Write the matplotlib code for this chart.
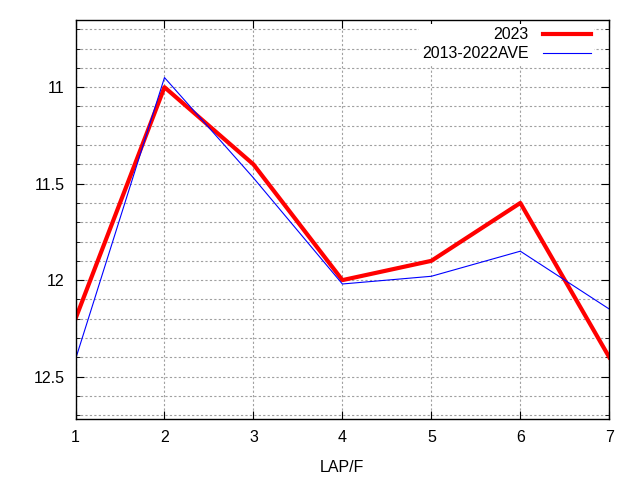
import matplotlib.pyplot as plt
import numpy as np

plt.rcParams.update({'font.size': 11.5, 'font.family': ['Liberation Sans', 'DejaVu Sans']})

# data
laps     = [1, 2, 3, 4, 5, 6, 7]
y2023    = [12.20, 11.00, 11.40, 12.00, 11.90, 11.60, 12.40]
yAve     = [12.41, 10.95, 11.47, 12.02, 11.98, 11.85, 12.15]
yTicks   = [11, 11.5, 12, 12.5]
yTickLab = ['11', '11.5', '12', '12.5']

fig = plt.figure(figsize=(6.4, 4.8), dpi=100, facecolor='w')
ax = fig.add_axes([0.118, 0.127, 0.834, 0.832])

ax.plot(laps, y2023, c='#ff0000', lw=3.0, label='2023')
ax.plot(laps, yAve, c='#0000ff', lw=0.8, label='2013-2022AVE')

ax.set_xlim(1, 7)
ax.set_ylim(12.72, 10.65)
ax.set_xticks(laps)
ax.set_yticks(yTicks)
ax.set_yticklabels(yTickLab)
ax.set_yticks(np.arange(10.7, 12.75, 0.1), minor=True)
ax.tick_params(which='both', direction='in', top=True, right=True, pad=8)
ax.tick_params(which='major', length=6)
ax.tick_params(which='minor', length=3)
ax.grid(which='both', axis='y', c='#a0a0a0', ls=(0, (2, 2)), lw=0.8)
ax.grid(which='major', axis='x', c='#a0a0a0', ls=(0, (2, 2)), lw=0.8)
for s in ax.spines.values():
    s.set_linewidth(1.0)

ax.set_xlabel('LAP/F', labelpad=11)

leg = ax.legend(loc='upper right', bbox_to_anchor=(1 - 15/534., 1 - 4.5/400.),
                markerfirst=False, frameon=True, fancybox=False,
                edgecolor='none', framealpha=1.0, handlelength=3.0, borderaxespad=0.,
                labelspacing=0.25, handletextpad=0.9, borderpad=0.2)
for t in leg.get_texts():
    t.set_ha('right')

fig.savefig('out.png', dpi=100)
